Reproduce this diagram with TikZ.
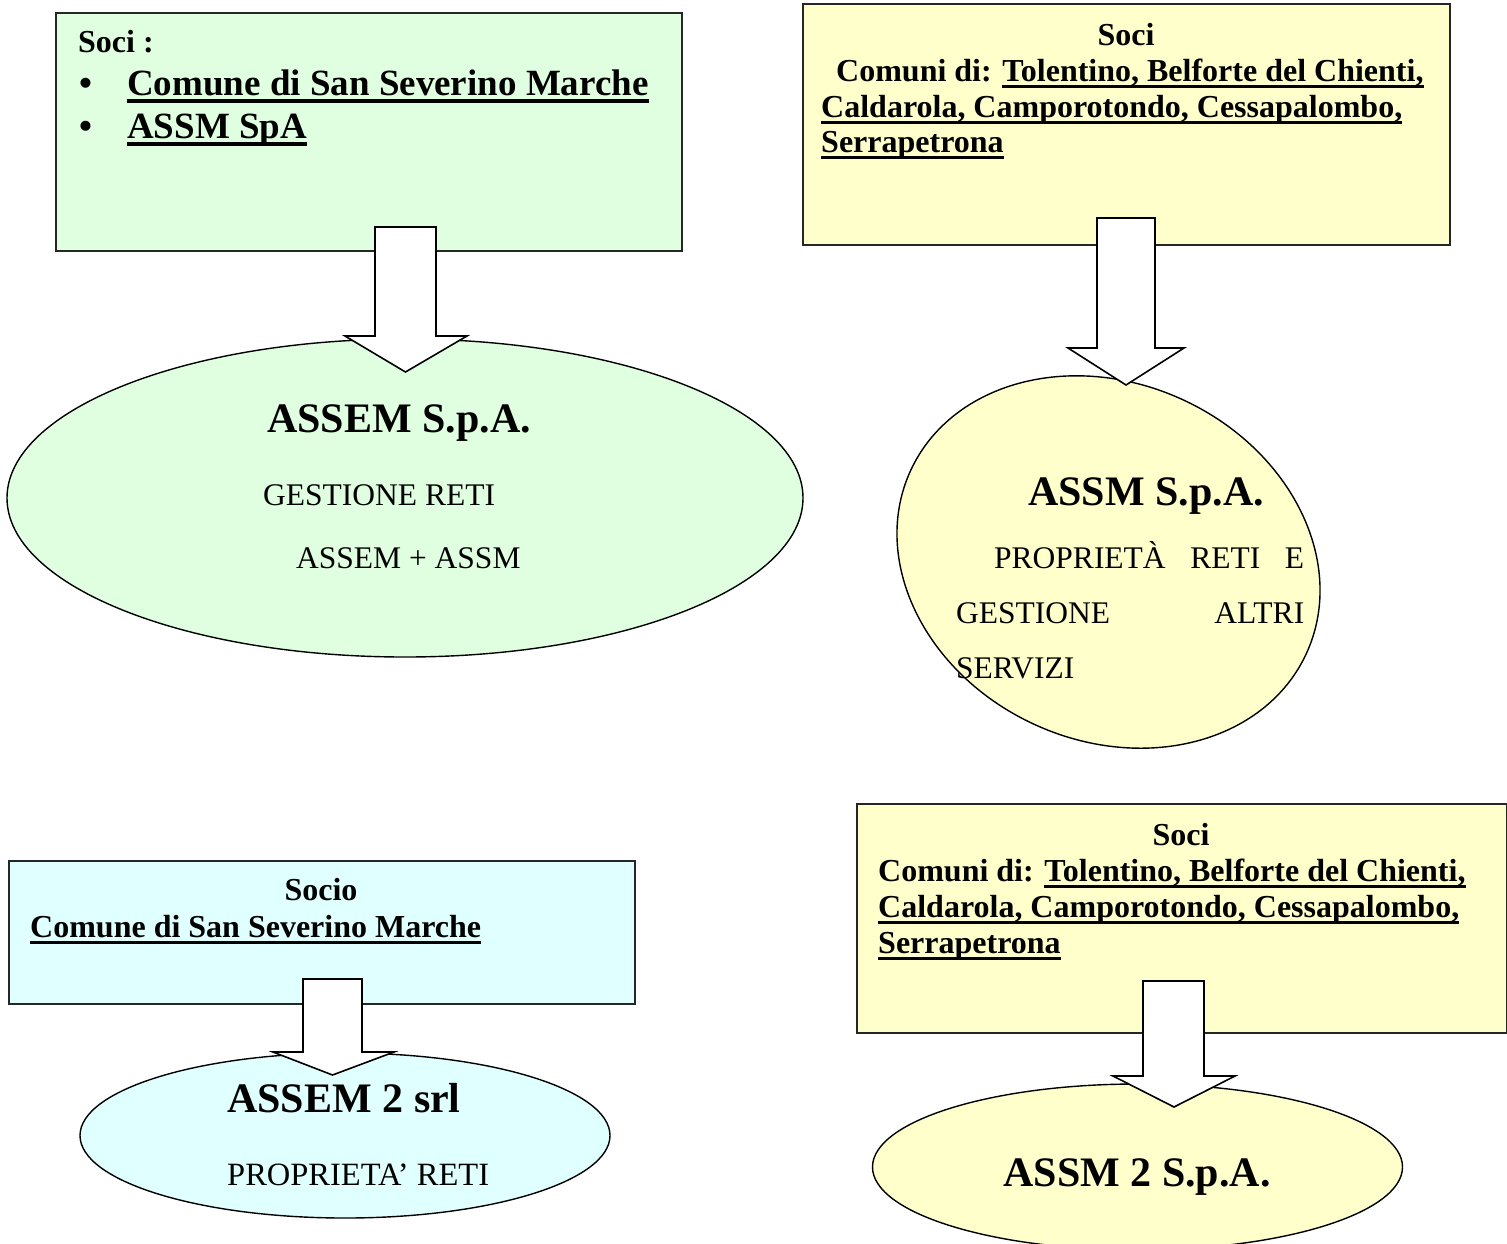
\documentclass[tikz,border=0pt]{standalone}
\usepackage{fontspec}
\setmainfont{Liberation Serif}
\usetikzlibrary{shapes.geometric}
\definecolor{greenfill}{RGB}{224,255,224}
\definecolor{yellowfill}{RGB}{255,255,204}
\definecolor{cyanfill}{RGB}{224,255,255}
\newcommand\myul[1]{\setbox0=\hbox{#1}\rlap{\rule[-7pt]{\wd0}{3.5pt}}\box0}
\newcommand\myulb[1]{\setbox0=\hbox{#1}\rlap{\rule[-8pt]{\wd0}{4.2pt}}\box0}
\begin{document}
\begin{tikzpicture}[x=1pt,y=-1pt,
  boxshape/.style={draw=black!85, line width=1.6pt, rectangle, anchor=north west, inner sep=0pt},
  ellshape/.style={draw=black, line width=1.4pt, ellipse, inner sep=0pt},
  blockarrow/.style={draw=black, line width=1.6pt, fill=white, line join=miter},
  txt/.style={inner sep=0pt, anchor=base west},
  ctxt/.style={inner sep=0pt, anchor=base},
  fb/.style={font=\fontsize{32}{36}\selectfont\bfseries},
  fbl/.style={font=\fontsize{37}{43}\selectfont\bfseries},
  fh/.style={font=\fontsize{42}{48}\selectfont\bfseries},
  fr/.style={font=\fontsize{31.5}{36}\selectfont},
]
\useasboundingbox (0,0) rectangle (1507,1243);

% ---------- boxes ----------
\node[boxshape, fill=greenfill, minimum width=626pt, minimum height=238pt] (b1) at (55,12) {};
\node[boxshape, fill=yellowfill, minimum width=647pt, minimum height=241pt] (b2) at (802,3) {};
\node[boxshape, fill=cyanfill, minimum width=626pt, minimum height=143pt] (b3) at (8,860) {};
\node[boxshape, fill=yellowfill, minimum width=650pt, minimum height=229pt] (b4) at (856,803) {};

% ---------- ellipses ----------
\node[ellshape, fill=greenfill, minimum width=796pt, minimum height=318pt] (e1) at (405,498) {};
\node[ellshape, fill=yellowfill, rotate=-25, minimum width=436pt, minimum height=357pt] (e2) at (1108.5,562) {};
\node[ellshape, fill=cyanfill, minimum width=530pt, minimum height=165pt] (e3) at (345,1135.5) {};
\node[ellshape, fill=yellowfill, minimum width=530pt, minimum height=166pt] (e4) at (1137.5,1167) {};

% ---------- block arrows ----------
\coordinate (t1) at (405.5,372);
\draw[blockarrow] (375,227) -- (436,227) -- (436,336) -- (467,336) -- (t1) -- (345,336) -- (375,336) -- cycle;
\coordinate (t2) at (1126,385);
\draw[blockarrow] (1097,218) -- (1155,218) -- (1155,348) -- (1184,348) -- (t2) -- (1068,348) -- (1097,348) -- cycle;
\coordinate (t3) at (332.5,1075);
\draw[blockarrow] (303,979) -- (362,979) -- (362,1052) -- (394,1052) -- (t3) -- (273,1052) -- (303,1052) -- cycle;
\coordinate (t4) at (1174,1107);
\draw[blockarrow] (1143,981) -- (1204,981) -- (1204,1076) -- (1235,1076) -- (t4) -- (1113,1076) -- (1143,1076) -- cycle;

% ---------- box 1 text ----------
\node[txt, fb] (b1soci) at (78,52) {Soci :};
\node[ctxt, fbl] (b1d1) at (86,95) {•};
\node[ctxt, fbl] (b1d2) at (86,138) {•};
\node[txt, fbl] (b1l1) at (127,95) {\myulb{Comune di San Severino Marche}};
\node[txt, fbl] (b1l2) at (127,138) {\myulb{ASSM SpA}};

% ---------- box 2 text ----------
\node[ctxt, fb] (b2soci) at (1126,45) {Soci};
\node[txt, fb] (b2l1) at (836,81) {Comuni di: \myul{Tolentino, Belforte del Chienti,}};
\node[txt, fb] (b2l2) at (821,117) {\myul{Caldarola, Camporotondo, Cessapalombo,}};
\node[txt, fb] (b2l3) at (821,152) {\myul{Serrapetrona}};

% ---------- box 3 text ----------
\node[ctxt, fb] (b3soci) at (321,900) {Socio};
\node[txt, fb] (b3l1) at (30,937) {\myul{Comune di San Severino Marche}};

% ---------- box 4 text ----------
\node[ctxt, fb] (b4soci) at (1181,845) {Soci};
\node[txt, fb] (b4l1) at (878,881) {Comuni di: \myul{Tolentino, Belforte del Chienti,}};
\node[txt, fb] (b4l2) at (878,917) {\myul{Caldarola, Camporotondo, Cessapalombo,}};
\node[txt, fb] (b4l3) at (878,953) {\myul{Serrapetrona}};

% ---------- ellipse 1 text ----------
\node[ctxt, fh] (e1h) at (399,432) {ASSEM S.p.A.};
\node[txt, fr] (e1a) at (263,505) {GESTIONE RETI};
\node[txt, fr] (e1b) at (296,568) {ASSEM + ASSM};

% ---------- ellipse 2 text ----------
\node[ctxt, fh] (e2h) at (1146,505) {ASSM S.p.A.};
\node[txt, fr] (e2a) at (994,568) {\makebox[310pt][s]{PROPRIETÀ RETI E}};
\node[txt, fr] (e2b) at (956,623) {\makebox[348pt][s]{GESTIONE ALTRI}};
\node[txt, fr] (e2c) at (956,678) {SERVIZI};

% ---------- ellipse 3 text ----------
\node[ctxt, fh] (e3h) at (344,1112) {ASSEM 2 srl};
\node[txt, fr, font=\fontsize{32.5}{36}\selectfont] (e3a) at (227,1185) {PROPRIETA’ RETI};

% ---------- ellipse 4 text ----------
\node[ctxt, fh] (e4h) at (1137,1186) {ASSM 2 S.p.A.};
\end{tikzpicture}
\end{document}
